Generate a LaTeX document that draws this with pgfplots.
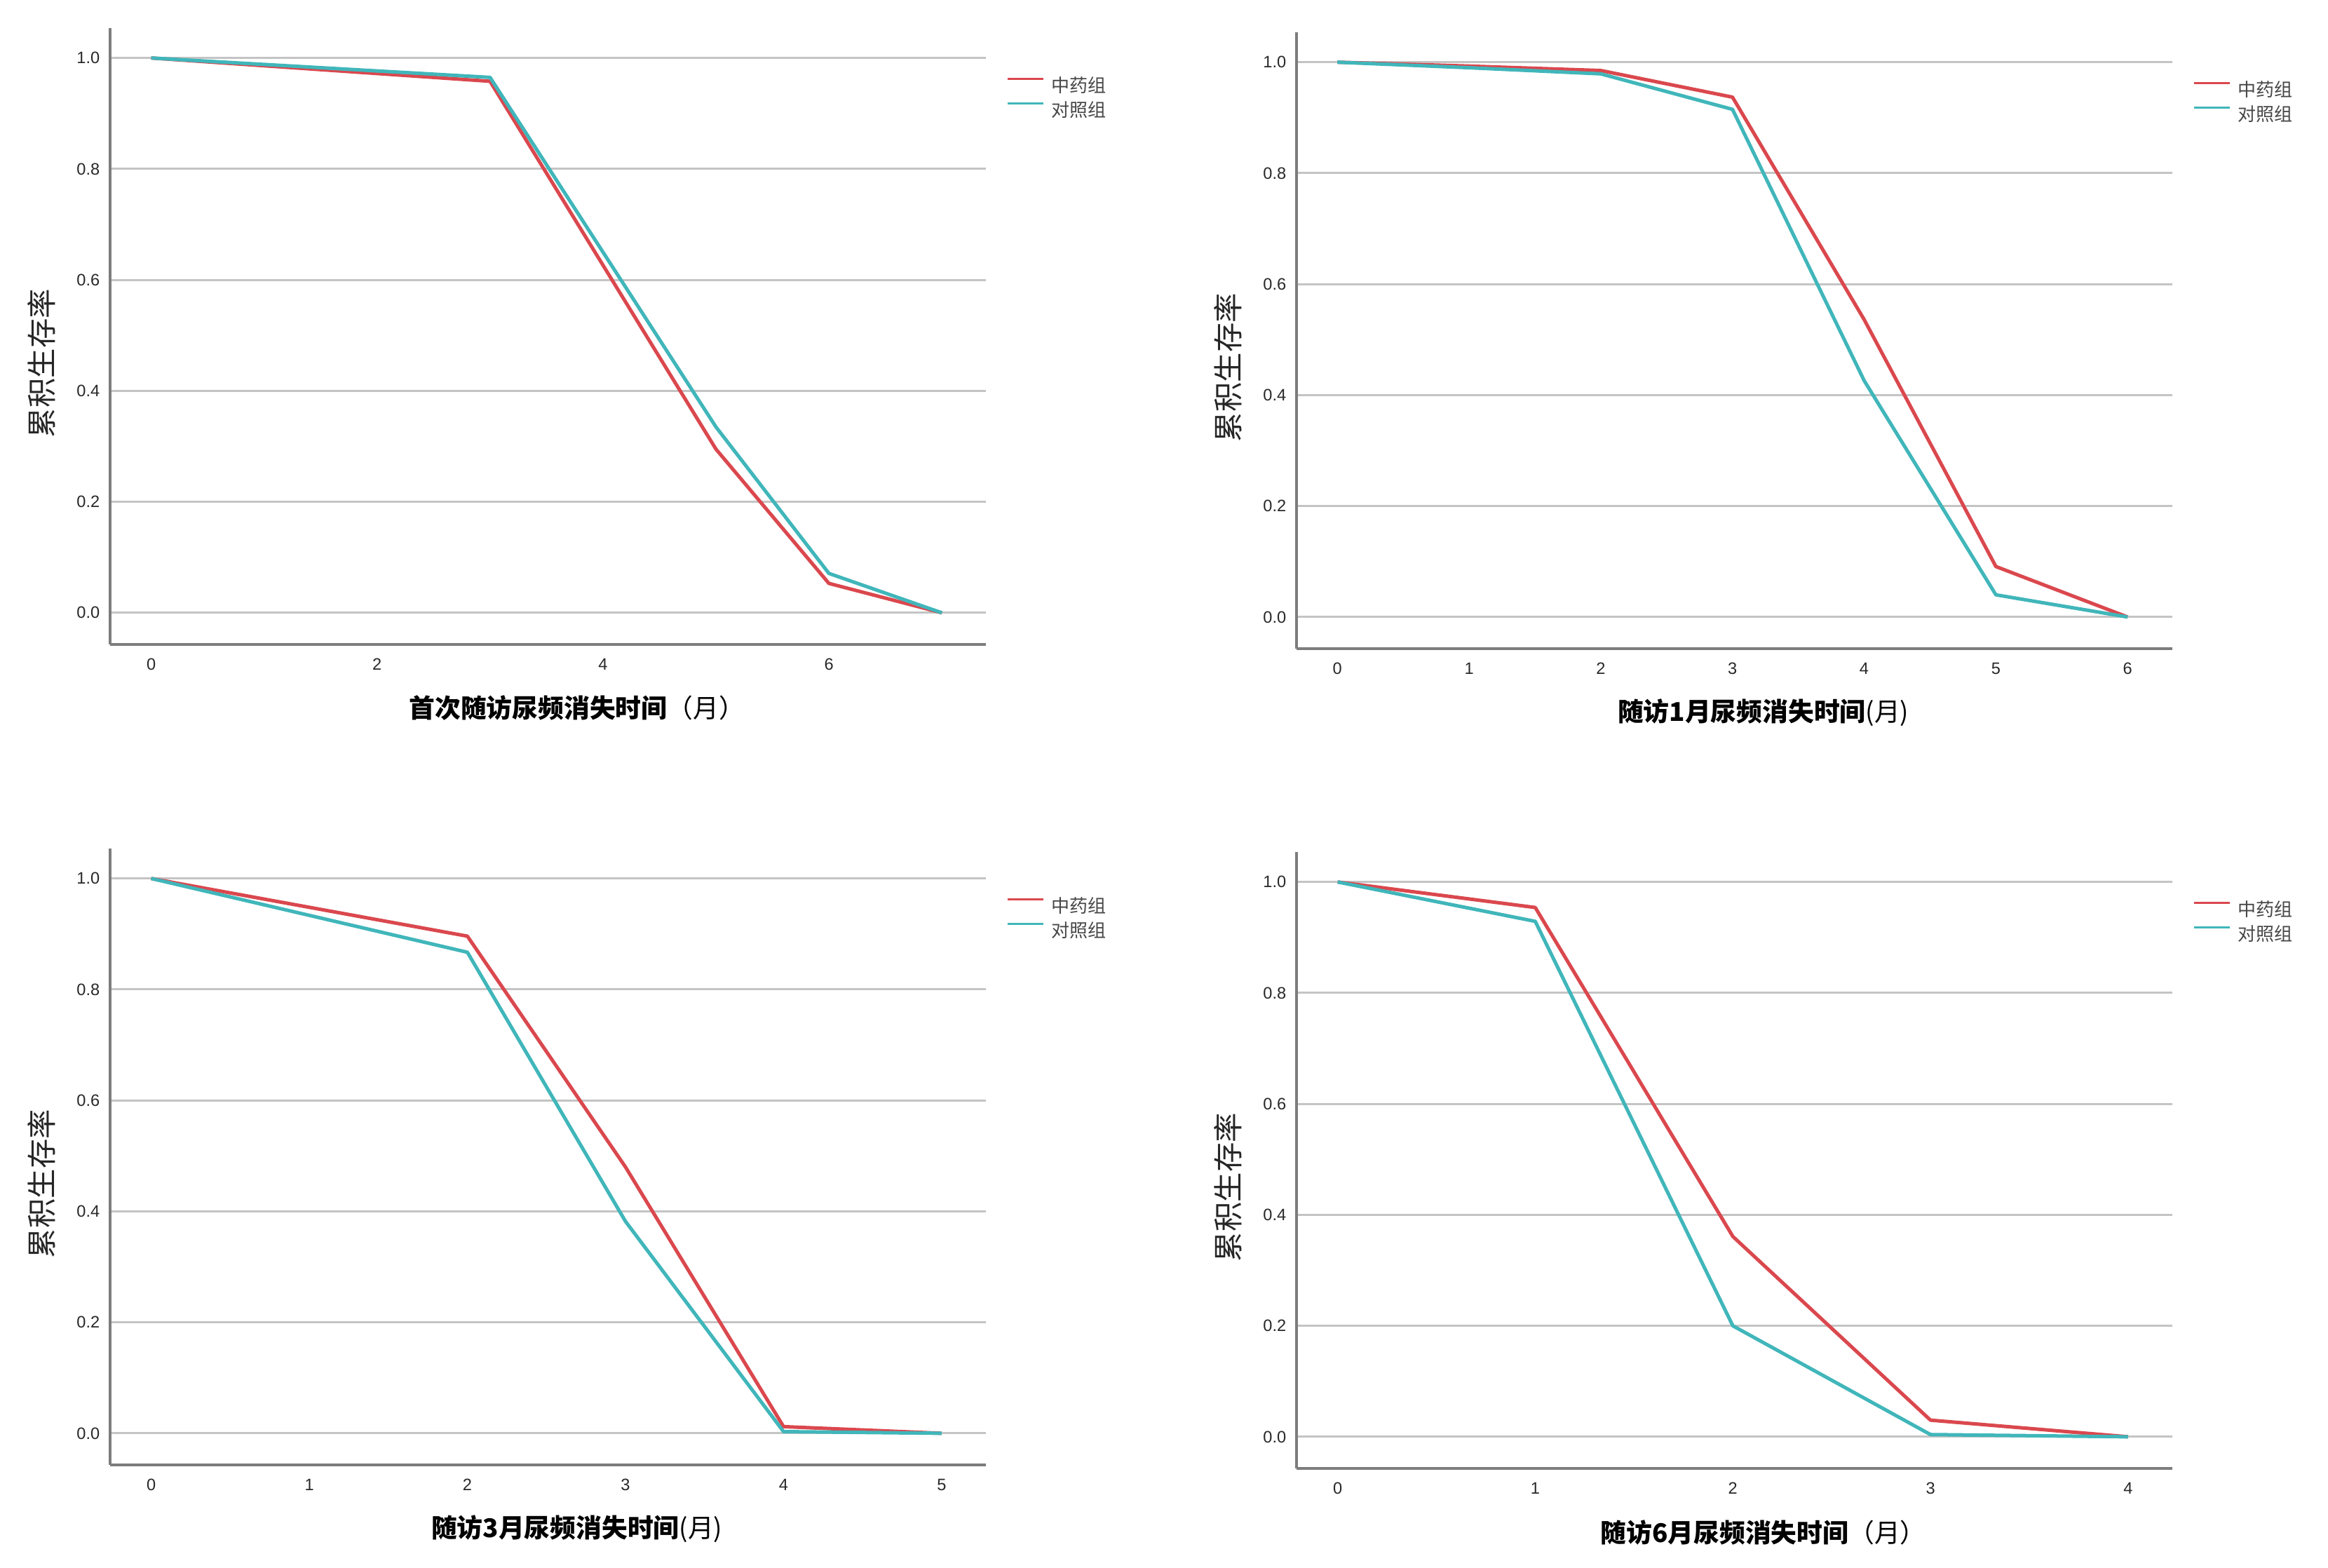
\documentclass[border=0pt]{standalone}
\usepackage{fontspec}
\setmainfont{Liberation Sans}
\newfontfamily\cjk{Noto Sans CJK SC}
\usepackage{pgfplots}
\pgfplotsset{compat=1.18}
\definecolor{redline}{RGB}{218,72,78}
\definecolor{tealline}{RGB}{64,182,186}
\definecolor{gridgray}{RGB}{196,196,196}
\definecolor{axisgray}{RGB}{125,125,125}
\definecolor{tickcol}{RGB}{40,40,40}
\definecolor{legtext}{RGB}{70,70,70}
\pgfplotsset{
  km/.style={
    scale only axis, width=312.25pt, height=219.75pt,
    anchor=south west,
    axis x line*=bottom, axis y line*=left,
    axis line style={-, line width=1pt, color=axisgray},
    ymin=-0.057, ymax=1.054,
    ytick={0,0.2,0.4,0.6,0.8,1.0},
    /pgf/number format/assume math mode=true,
    ymajorgrids, grid style={line width=0.75pt, color=gridgray},
    major tick length=0pt,
    tick label style={font=\fontsize{5.9}{6}\selectfont, color=tickcol, inner sep=0pt},
    yticklabel style={/pgf/number format/fixed, /pgf/number format/fixed zerofill, /pgf/number format/precision=1, xshift=-3.5pt},
    xticklabel style={yshift=-4.9pt},
    xlabel style={at={(axis description cs:0.533,-0.1035)}, anchor=center, inner sep=0pt,
      font=\cjk\fontsize{9.2}{10}\selectfont, color=black},
    ylabel style={at={(axis description cs:-0.078,0.456)}, anchor=center, inner sep=0pt,
      font=\cjk\fontsize{10.6}{11}\selectfont, color=black!85},
    ylabel={累积生存率},
    every axis plot/.append style={line width=1.25pt, line join=round, no markers},
    legend style={
      at={(axis description cs:1.0232,0.9215)}, anchor=north west,
      draw=none, fill=none, inner sep=0pt, outer sep=0pt,
      font=\cjk\fontsize{6.5}{7}\selectfont, text=legtext,
      row sep=2.25pt,
      nodes={inner sep=0pt, text height=5.6pt, text depth=0.9pt},
      /tikz/every odd column/.append style={column sep=2.5pt},
    },
    legend image code/.code={\draw[#1, line width=0.8pt] (0pt,2.35pt) -- (12.75pt,2.35pt);},
  }
}
\begin{document}
\begin{tikzpicture}
\path (0,0) rectangle (830pt,559pt);
% Panel 1
\begin{axis}[km, at={(39.25pt,329.25pt)},
  xmin=-0.364, xmax=7.39, xtick={0,2,4,6},
  xlabel={{\bfseries 首次随访尿频消失时间}（月）}]
\addplot[redline] coordinates {(0,1) (3,0.958) (5,0.295) (6,0.053) (7,0)};
\addlegendentry{中药组}
\addplot[tealline] coordinates {(0,1) (3,0.965) (5,0.335) (6,0.071) (7,0)};
\addlegendentry{对照组}
\end{axis}
% Panel 2
\begin{axis}[km, at={(462.25pt,327.75pt)},
  xmin=-0.31, xmax=6.34, xtick={0,1,2,3,4,5,6},
  xlabel={{\bfseries 随访1月尿频消失时间}(月)}]
\addplot[redline] coordinates {(0,1) (1,0.993) (2,0.985) (3,0.937) (4,0.536) (5,0.091) (6,0)};
\addlegendentry{中药组}
\addplot[tealline] coordinates {(0,1) (1,0.990) (2,0.979) (3,0.915) (4,0.426) (5,0.040) (6,0)};
\addlegendentry{对照组}
\end{axis}
% Panel 3
\begin{axis}[km, at={(39.25pt,36.75pt)},
  xmin=-0.26, xmax=5.28, xtick={0,1,2,3,4,5},
  xlabel={{\bfseries 随访3月尿频消失时间}(月)}]
\addplot[redline] coordinates {(0,1) (2,0.896) (3,0.480) (4,0.012) (5,0)};
\addlegendentry{中药组}
\addplot[tealline] coordinates {(0,1) (2,0.867) (3,0.382) (4,0.003) (5,0)};
\addlegendentry{对照组}
\end{axis}
% Panel 4
\begin{axis}[km, at={(462.25pt,35.5pt)},
  xmin=-0.208, xmax=4.224, xtick={0,1,2,3,4},
  xlabel={{\bfseries 随访6月尿频消失时间}（月）}]
\addplot[redline] coordinates {(0,1) (1,0.954) (2,0.361) (3,0.030) (4,0)};
\addlegendentry{中药组}
\addplot[tealline] coordinates {(0,1) (1,0.929) (2,0.200) (3,0.004) (4,0)};
\addlegendentry{对照组}
\end{axis}
\end{tikzpicture}
\end{document}
